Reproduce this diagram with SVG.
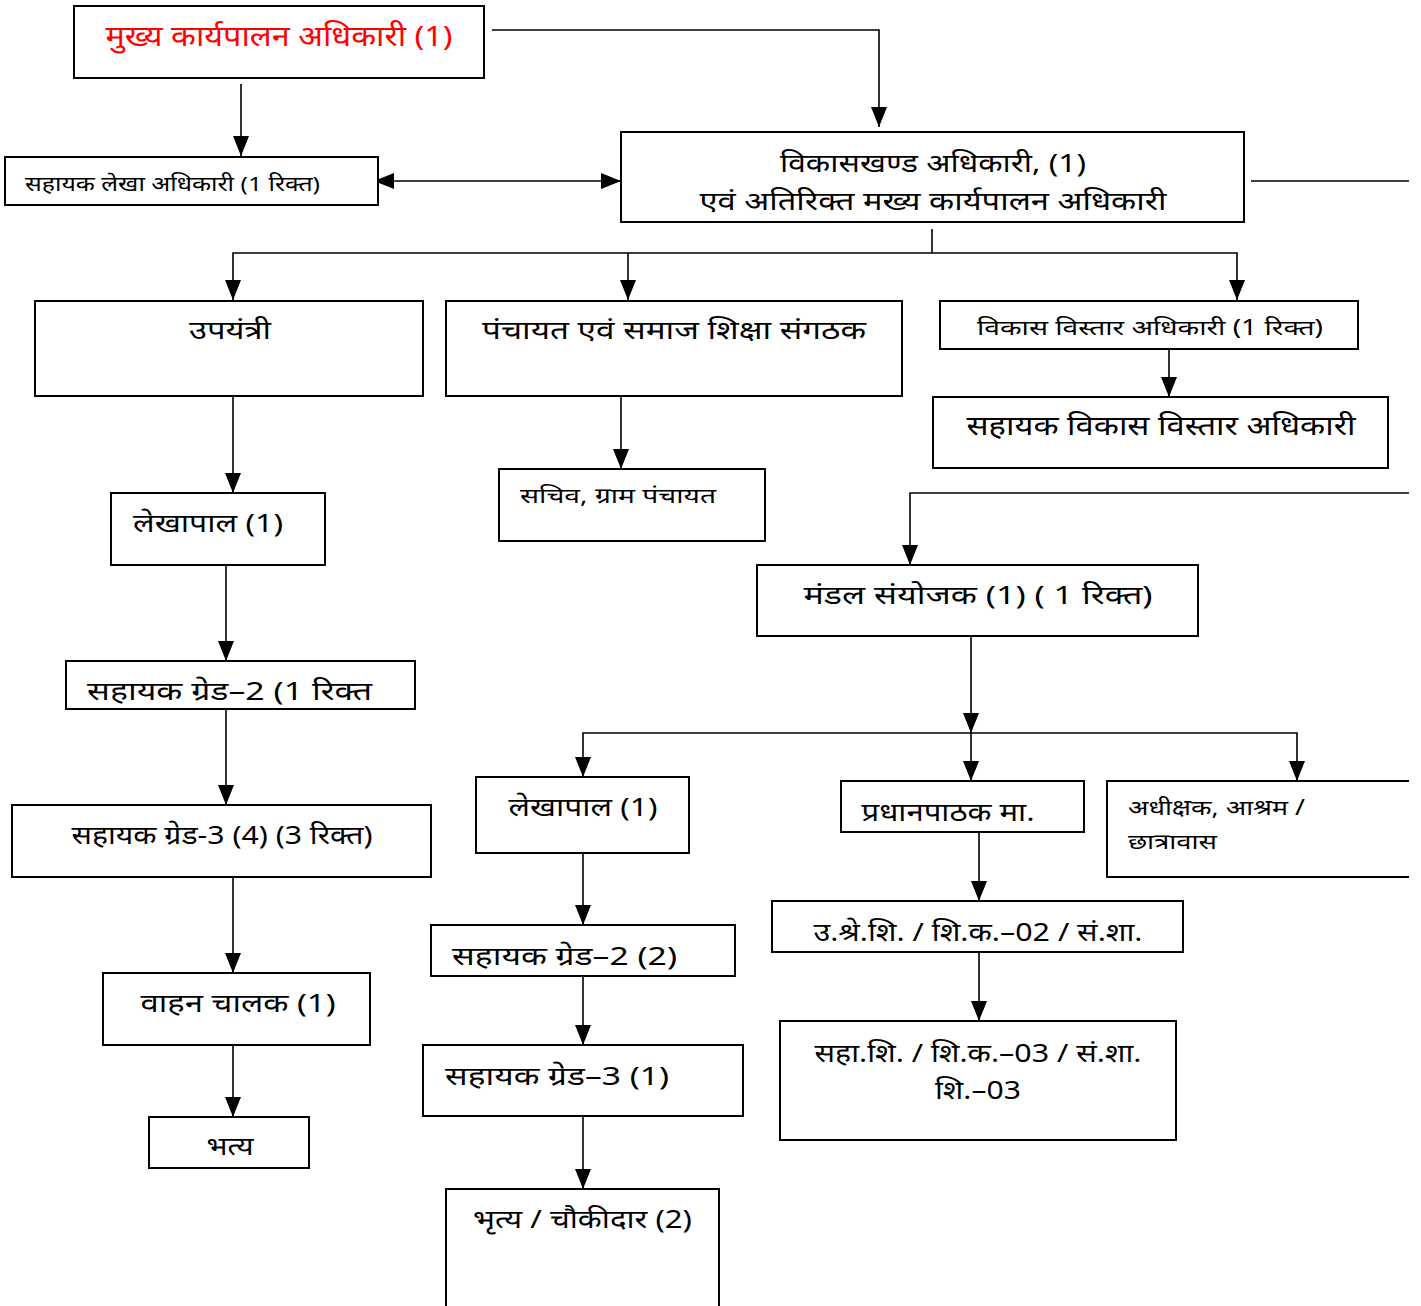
<svg xmlns="http://www.w3.org/2000/svg" width="1421" height="1306" viewBox="0 0 1421 1306">
<style>
.b{fill:#fff;stroke:#000;stroke-width:2}
.t{font-family:"Noto Sans","DejaVu Sans",sans-serif;fill:#000}
.c{fill:none;stroke:#000;stroke-width:1.6}
.m{text-anchor:middle}
</style>
<defs>
<marker id="a" markerUnits="userSpaceOnUse" markerWidth="20" markerHeight="16" refX="20" refY="8" orient="auto-start-reverse" viewBox="0 0 20 16"><path d="M0,0 L20,8 L0,16 z" fill="#000"/></marker>
</defs>
<rect width="1421" height="1306" fill="#fff"/>
<g id="connectors">
<polyline class="c" points="492,30 879,30 879,127" marker-end="url(#a)"/>
<line class="c" x1="241" y1="84" x2="241" y2="156" marker-end="url(#a)"/>
<line class="c" x1="374" y1="181" x2="621" y2="181" marker-start="url(#a)" marker-end="url(#a)"/>
<line class="c" x1="1251" y1="181" x2="1409" y2="181"/>
<line class="c" x1="932" y1="229" x2="932" y2="253"/>
<polyline class="c" points="233,300 233,253 1237,253 1237,300" marker-start="url(#a)" marker-end="url(#a)"/>
<line class="c" x1="628" y1="253" x2="628" y2="300" marker-end="url(#a)"/>
<line class="c" x1="1169" y1="349" x2="1169" y2="397" marker-end="url(#a)"/>
<line class="c" x1="233" y1="396" x2="233" y2="493" marker-end="url(#a)"/>
<line class="c" x1="621" y1="396" x2="621" y2="469" marker-end="url(#a)"/>
<line class="c" x1="226" y1="565" x2="226" y2="661" marker-end="url(#a)"/>
<line class="c" x1="226" y1="709" x2="226" y2="805" marker-end="url(#a)"/>
<line class="c" x1="233" y1="877" x2="233" y2="973" marker-end="url(#a)"/>
<line class="c" x1="233" y1="1045" x2="233" y2="1117" marker-end="url(#a)"/>
<polyline class="c" points="1409,493 910,493 910,565" marker-end="url(#a)"/>
<line class="c" x1="971" y1="636" x2="971" y2="733" marker-end="url(#a)"/>
<polyline class="c" points="583,777 583,733 1297,733 1297,781" marker-start="url(#a)" marker-end="url(#a)"/>
<line class="c" x1="971" y1="733" x2="971" y2="781" marker-end="url(#a)"/>
<line class="c" x1="583" y1="853" x2="583" y2="925" marker-end="url(#a)"/>
<line class="c" x1="583" y1="970" x2="583" y2="1045" marker-end="url(#a)"/>
<line class="c" x1="583" y1="1116" x2="583" y2="1189" marker-end="url(#a)"/>
<line class="c" x1="979" y1="830" x2="979" y2="901" marker-end="url(#a)"/>
<line class="c" x1="979" y1="950" x2="979" y2="1021" marker-end="url(#a)"/>
</g>
<g id="n1"><rect class="b" x="74" y="6" width="410" height="72"/><text class="t m" x="279" y="46" font-size="28" style="fill:#f00" textLength="347" lengthAdjust="spacingAndGlyphs">मुख्य कार्यपालन अधिकारी (1)</text></g>
<g id="n2"><rect class="b" x="5" y="157" width="373" height="48"/><text class="t" x="25" y="191" font-size="20" textLength="295" lengthAdjust="spacingAndGlyphs">सहायक लेखा अधिकारी (1 रिक्त)</text></g>
<g id="n3"><rect class="b" x="621" y="132" width="623" height="90"/><text class="t m" x="933" y="172" font-size="26" textLength="306" lengthAdjust="spacingAndGlyphs">विकासखण्ड अधिकारी, (1)</text><text class="t m" x="933" y="210" font-size="26" textLength="467" lengthAdjust="spacingAndGlyphs">एवं अतिरिक्त मख्य कार्यपालन अधिकारी</text></g>
<g id="n4"><rect class="b" x="35" y="301" width="388" height="95"/><text class="t m" x="230" y="339" font-size="26" textLength="82" lengthAdjust="spacingAndGlyphs">उपयंत्री</text></g>
<g id="n5"><rect class="b" x="446" y="301" width="456" height="95"/><text class="t m" x="674" y="339" font-size="26" textLength="384" lengthAdjust="spacingAndGlyphs">पंचायत एवं समाज शिक्षा संगठक</text></g>
<g id="n6"><rect class="b" x="940" y="301" width="418" height="48"/><text class="t m" x="1150" y="335" font-size="21" textLength="346" lengthAdjust="spacingAndGlyphs">विकास विस्तार अधिकारी (1 रिक्त)</text></g>
<g id="n7"><rect class="b" x="933" y="397" width="455" height="71"/><text class="t m" x="1161" y="435" font-size="27" textLength="389" lengthAdjust="spacingAndGlyphs">सहायक विकास विस्तार अधिकारी</text></g>
<g id="n8"><rect class="b" x="111" y="493" width="214" height="72"/><text class="t" x="133" y="532" font-size="26" textLength="150" lengthAdjust="spacingAndGlyphs">लेखापाल (1)</text></g>
<g id="n9"><rect class="b" x="499" y="469" width="266" height="72"/><text class="t" x="520" y="503" font-size="21" textLength="196" lengthAdjust="spacingAndGlyphs">सचिव, ग्राम पंचायत</text></g>
<g id="n10"><rect class="b" x="66" y="661" width="349" height="48"/><text class="t" x="87" y="700" font-size="26" textLength="285" lengthAdjust="spacingAndGlyphs">सहायक ग्रेड–2 (1 रिक्त</text></g>
<g id="n11"><rect class="b" x="12" y="805" width="419" height="72"/><text class="t m" x="222" y="844" font-size="26" textLength="301" lengthAdjust="spacingAndGlyphs">सहायक ग्रेड-3 (4) (3 रिक्त)</text></g>
<g id="n12"><rect class="b" x="103" y="973" width="267" height="72"/><text class="t m" x="238" y="1012" font-size="26" textLength="195" lengthAdjust="spacingAndGlyphs">वाहन चालक (1)</text></g>
<g id="n13"><rect class="b" x="149" y="1117" width="160" height="51"/><text class="t m" x="230" y="1155" font-size="26" textLength="47" lengthAdjust="spacingAndGlyphs">भत्य</text></g>
<g id="n14"><rect class="b" x="757" y="565" width="441" height="71"/><text class="t m" x="978" y="604" font-size="26" textLength="349" lengthAdjust="spacingAndGlyphs">मंडल संयोजक (1) ( 1 रिक्त)</text></g>
<g id="n15"><rect class="b" x="476" y="777" width="213" height="76"/><text class="t m" x="583" y="816" font-size="26" textLength="149" lengthAdjust="spacingAndGlyphs">लेखापाल (1)</text></g>
<g id="n16"><rect class="b" x="841" y="781" width="243" height="51"/><text class="t m" x="948" y="821" font-size="26" textLength="173" lengthAdjust="spacingAndGlyphs">प्रधानपाठक मा.</text></g>
<g id="n17"><path class="b" d="M1409,781 H1107 V877 H1409"/><text class="t" x="1128" y="815" font-size="21" textLength="177" lengthAdjust="spacingAndGlyphs">अधीक्षक, आश्रम /</text><text class="t" x="1128" y="849" font-size="21" textLength="89" lengthAdjust="spacingAndGlyphs">छात्रावास</text></g>
<g id="n18"><rect class="b" x="772" y="901" width="411" height="51"/><text class="t m" x="978" y="941" font-size="25" textLength="329" lengthAdjust="spacingAndGlyphs">उ.श्रे.शि. / शि.क.–02 / सं.शा.</text></g>
<g id="n19"><rect class="b" x="780" y="1021" width="396" height="119"/><text class="t m" x="978" y="1062" font-size="25" textLength="327" lengthAdjust="spacingAndGlyphs">सहा.शि. / शि.क.–03 / सं.शा.</text><text class="t m" x="978" y="1099" font-size="25" textLength="86" lengthAdjust="spacingAndGlyphs">शि.–03</text></g>
<g id="n20"><rect class="b" x="431" y="925" width="304" height="51"/><text class="t" x="452" y="965" font-size="26" textLength="225" lengthAdjust="spacingAndGlyphs">सहायक ग्रेड–2 (2)</text></g>
<g id="n21"><rect class="b" x="423" y="1045" width="320" height="71"/><text class="t" x="445" y="1085" font-size="26" textLength="224" lengthAdjust="spacingAndGlyphs">सहायक ग्रेड–3 (1)</text></g>
<g id="n22"><rect class="b" x="446" y="1189" width="273" height="130"/><text class="t" x="473" y="1228" font-size="26" textLength="219" lengthAdjust="spacingAndGlyphs">भृत्य / चौकीदार (2)</text></g>
</svg>
